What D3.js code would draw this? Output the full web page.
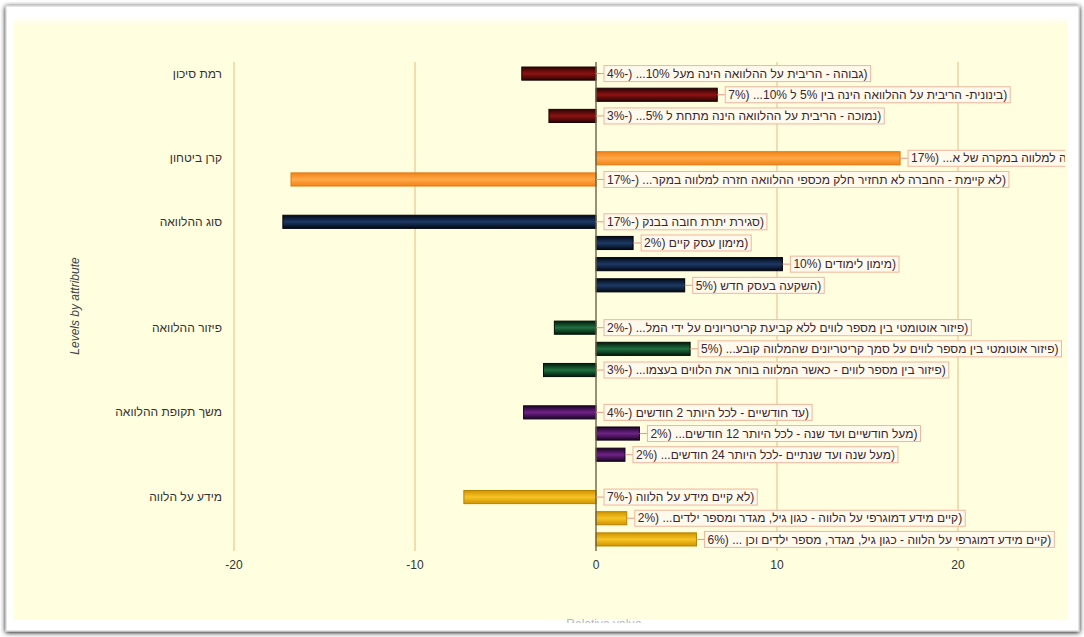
<!DOCTYPE html>
<html>
<head>
<meta charset="utf-8">
<script src="https://cdn.jsdelivr.net/npm/d3@7"></script>
<style>
  html, body { margin: 0; padding: 0; background: #ffffff; }
  svg { display: block; font-family: "Liberation Sans", Arial, "DejaVu Sans", sans-serif; }
</style>
</head>
<body>
<svg id="chart" width="1084" height="637"></svg>
<script>
// ---------- DATA ----------
const attributes = ["רמת סיכון", "קרן ביטחון", "סוג ההלוואה", "פיזור ההלוואה", "משך תקופת ההלוואה", "מידע על הלווה"];
const levelAttribute = [0, 0, 0, 1, 1, 2, 2, 2, 2, 3, 3, 3, 4, 4, 4, 5, 5, 5];
const levels = [
  "גבוהה - הריבית על ההלוואה הינה מעל 10%...",
  "בינונית- הריבית על ההלוואה הינה בין 5% ל 10%...",
  "נמוכה - הריבית על ההלוואה הינה מתחת ל 5%...",
  "קיימת - החברה תחזיר חלק מכספי ההלוואה חזרה למלווה במקרה של א...",
  "לא קיימת - החברה לא תחזיר חלק מכספי ההלוואה חזרה למלווה במקר...",
  "סגירת יתרת חובה בבנק",
  "מימון עסק קיים",
  "מימון לימודים",
  "השקעה בעסק חדש",
  "פיזור אוטומטי בין מספר לווים ללא קביעת קריטריונים על ידי המל...",
  "פיזור אוטומטי בין מספר לווים על סמך קריטריונים שהמלווה קובע...",
  "פיזור בין מספר לווים - כאשר המלווה בוחר את הלווים בעצמו...",
  "עד חודשיים - לכל היותר 2 חודשים",
  "מעל חודשיים ועד שנה - לכל היותר 12 חודשים...",
  "מעל שנה ועד שנתיים -לכל היותר 24 חודשים...",
  "לא קיים מידע על הלווה",
  "קיים מידע דמוגרפי על הלווה - כגון גיל, מגדר ומספר ילדים...",
  "קיים מידע דמוגרפי על הלווה - כגון גיל, מגדר, מספר ילדים וכן ..."
];
const values = [-4.1, 6.7, -2.6, 16.8, -16.85, -17.3, 2.05, 10.3, 4.9, -2.3, 5.2, -2.9, -4.0, 2.4, 1.6, -7.3, 1.7, 5.55];
const xTicks = [-20, -10, 0, 10, 20];
const xTitle = "Relative value";
const yTitle = "Levels by attribute";

// colours per attribute: [edge, centre, stroke]
const attrColors = [
  ["#2a0404", "#8e1212", "#1a0202"],
  ["#f08418", "#ffa848", "#e07810"],
  ["#020814", "#1d3a66", "#000308"],
  ["#021a0a", "#207040", "#010f05"],
  ["#1c0424", "#6e2288", "#12021a"],
  ["#cf9400", "#f7c426", "#b88200"]
];

// ---------- LAYOUT ----------
const svg = d3.select("#chart");
const W = 1084, H = 637;

// slots: each attribute's levels followed by a spacer
const slots = [];
attributes.forEach((a, ai) => {
  levels.forEach((l, li) => { if (levelAttribute[li] === ai) slots.push("L" + li); });
  if (ai < attributes.length - 1) slots.push("S" + ai);
});

const x = d3.scaleLinear().domain([-20, 20]).range([234, 958]);
const y = d3.scaleBand().domain(slots).range([63, 550]).paddingInner(0.38).paddingOuter(0.19);

const defs = svg.append("defs");
const shadow = defs.append("filter").attr("id", "shadow").attr("x", "-5%").attr("y", "-5%").attr("width", "110%").attr("height", "110%");
shadow.append("feGaussianBlur").attr("in", "SourceAlpha").attr("stdDeviation", 2.5);
shadow.append("feOffset").attr("dx", 0).attr("dy", 1).attr("result", "b");
const fm = shadow.append("feMerge");
fm.append("feMergeNode").attr("in", "b");
fm.append("feMergeNode").attr("in", "SourceGraphic");

const topFade = defs.append("linearGradient").attr("id", "topFade").attr("x1", 0).attr("x2", 0).attr("y1", 0).attr("y2", 1);
topFade.append("stop").attr("offset", "0%").attr("stop-color", "#ffffff");
topFade.append("stop").attr("offset", "100%").attr("stop-color", "#fffedd");

attrColors.forEach((c, i) => {
  const g = defs.append("linearGradient").attr("id", "bar" + i).attr("x1", 0).attr("x2", 0).attr("y1", 0).attr("y2", 1);
  g.append("stop").attr("offset", "0%").attr("stop-color", c[0]);
  g.append("stop").attr("offset", "50%").attr("stop-color", c[1]);
  g.append("stop").attr("offset", "100%").attr("stop-color", c[0]);
});

defs.append("clipPath").attr("id", "panelClip").append("rect")
  .attr("x", 14).attr("y", 24).attr("width", 1051).attr("height", 596);
defs.append("clipPath").attr("id", "titleClip").append("rect")
  .attr("x", 14).attr("y", 24).attr("width", 1051).attr("height", 599);

// background
svg.append("rect").attr("width", W).attr("height", H).attr("fill", "#ffffff");
svg.append("rect").attr("x", 6).attr("y", 6).attr("width", 1073).attr("height", 625)
  .attr("fill", "#ffffff").attr("stroke", "#d4d4d4").attr("stroke-width", 1.2).attr("filter", "url(#shadow)");
svg.append("rect").attr("x", 14).attr("y", 16).attr("width", 1054).attr("height", 10).attr("fill", "url(#topFade)");
svg.append("rect").attr("x", 14).attr("y", 25).attr("width", 1054).attr("height", 595).attr("fill", "#fffedf");

// gridlines
svg.append("g").selectAll("line").data(xTicks.filter(t => t !== 0)).join("line")
  .attr("x1", d => x(d)).attr("x2", d => x(d)).attr("y1", 62).attr("y2", 551)
  .attr("stroke", "#ebc690").attr("stroke-width", 1.2);

// x tick labels
svg.append("g").selectAll("text").data(xTicks).join("text")
  .attr("x", d => x(d)).attr("y", 569).attr("text-anchor", "middle")
  .attr("font-size", 12).attr("fill", "#333").text(d => d);

// bars
const rows = levels.map((l, i) => ({ i, level: l, value: values[i], attr: levelAttribute[i] }));
svg.append("g").selectAll("rect").data(rows).join("rect")
  .attr("x", d => x(Math.min(0, d.value)))
  .attr("width", d => Math.abs(x(d.value) - x(0)))
  .attr("y", d => y("L" + d.i))
  .attr("height", y.bandwidth())
  .attr("fill", d => `url(#bar${d.attr})`)
  .attr("stroke", d => attrColors[d.attr][2]).attr("stroke-width", 1);

// zero line
svg.append("line").attr("x1", x(0)).attr("x2", x(0)).attr("y1", 62).attr("y2", 551)
  .attr("stroke", "#6e6248").attr("stroke-width", 1.4);

// value labels (left-to-right paragraph; closing bracket isolated as in the original rendering)
const lab = svg.append("g").attr("clip-path", "url(#panelClip)");
rows.forEach(d => {
  const start = d.value > 0 ? x(d.value) : x(0);
  const cy = y("L" + d.i) + y.bandwidth() / 2;
  const boxX = start + 8;
  const g = lab.append("g");
  g.append("line").attr("x1", start).attr("x2", boxX).attr("y1", cy).attr("y2", cy)
    .attr("stroke", "#e09a88").attr("stroke-width", 1);
  const box = g.append("rect");
  const t = g.append("text").attr("x", boxX + 3).attr("y", cy + 4.2)
    .attr("font-size", 12).attr("fill", "#3a2630")
    .text("\u200E" + d.level + " (" + Math.round(d.value) + "%\u2066)\u2069");
  const bw = t.node().getComputedTextLength();
  box.attr("x", boxX).attr("y", cy - 8).attr("width", bw + 6).attr("height", 16)
    .attr("fill", "#fffaec").attr("stroke", "#f2b49c").attr("stroke-width", 1);
});

// attribute (group) labels
svg.append("g").selectAll("text").data(attributes).join("text")
  .attr("x", 222)
  .attr("y", (a, ai) => {
    const first = levelAttribute.indexOf(ai);
    return y("L" + first) + y.bandwidth() / 2 + 4;
  })
  .attr("text-anchor", "end").attr("font-size", 12).attr("fill", "#333")
  .text(d => d);

// axis titles
svg.append("text").attr("transform", "translate(79,306) rotate(-90)")
  .attr("text-anchor", "middle").attr("font-size", 12).attr("font-style", "italic")
  .attr("fill", "#444").text(yTitle);
svg.append("g").attr("clip-path", "url(#titleClip)").append("text")
  .attr("x", x(0) + 8).attr("y", 628).attr("text-anchor", "middle")
  .attr("font-size", 12).attr("fill", "#b8b8b8").text(xTitle);
</script>
</body>
</html>
